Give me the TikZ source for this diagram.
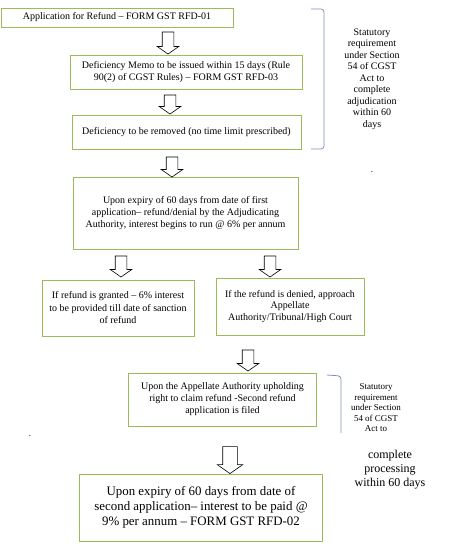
\documentclass[tikz,border=0pt]{standalone}
\usepackage{fontspec}
\setmainfont{Liberation Serif}
\usetikzlibrary{shapes.arrows}
\definecolor{boxgreen}{RGB}{155,187,89}
\definecolor{bracegray}{RGB}{128,148,182}

\begin{document}
\begin{tikzpicture}[x=1pt,y=-1pt,
  box/.style={draw=boxgreen,line width=0.8pt,inner sep=0pt,align=center,
    font=\rmfamily\fontsize{10}{11.6}\selectfont},
  down arrow/.style={single arrow,draw,fill=white,line width=0.6pt,rotate=-90,
    inner xsep=0pt,inner ysep=5.5pt,single arrow head extend=5pt,
    single arrow tip angle=110},
  note/.style={align=center,font=\rmfamily\fontsize{10}{11.5}\selectfont}]

  \useasboundingbox (0,0) rectangle (455,560);

  \node[box,minimum width=232pt,minimum height=19pt] (1) at (117,17.5)
    {Application for Refund -- FORM GST RFD-01};
  \node[box,minimum width=232pt,minimum height=34pt] (2) at (186,72)
    {Deficiency Memo to be issued within 15 days (Rule\\90(2) of CGST Rules) -- FORM GST RFD-03};
  \node[box,minimum width=229pt,minimum height=34pt] (3) at (186.5,132)
    {Deficiency to be removed (no time limit prescribed)};
  \node[box,minimum width=225pt,minimum height=72pt] (4) at (185.5,213)
    {Upon expiry of 60 days from date of first\\application-- refund/denial by the Adjudicating\\Authority, interest begins to run @ 6\% per annum};
  \node[box,minimum width=152pt,minimum height=56pt,
    font=\rmfamily\fontsize{10}{12.5}\selectfont] (5) at (118,308)
    {If refund is granted -- 6\% interest\\to be provided till date of sanction\\of refund};
  \node[box,minimum width=148pt,minimum height=57pt] (6) at (290,306.5)
    {If the refund is denied, approach\\Appellate\\Authority/Tribunal/High Court};
  \node[box,minimum width=188pt,minimum height=53pt,
    font=\rmfamily\fontsize{10}{12}\selectfont] (7) at (222.5,399.5)
    {Upon the Appellate Authority upholding\\right to claim refund -Second refund\\application is filed};
  \node[box,minimum width=243pt,minimum height=67pt,
    font=\rmfamily\fontsize{12.9}{15}\selectfont] (8) at (201,507.5)
    {Upon expiry of 60 days from date of\\second application-- interest to be paid @\\9\% per annum -- FORM GST RFD-02};

  % block arrows
  \node[down arrow,minimum height=22pt] (a1) at (168,41) {};
  \node[down arrow,minimum height=19pt] (a2) at (170,102.5) {};
  \node[down arrow,minimum height=20pt] (a3) at (172,165) {};
  \node[down arrow,minimum height=21pt] (a4) at (121,264.5) {};
  \node[down arrow,minimum height=21pt] (a5) at (270,264.5) {};
  \node[down arrow,minimum height=21pt] (a6) at (248,358.5) {};
  \node[down arrow,minimum height=27pt,inner ysep=7pt,
    single arrow head extend=5.5pt] (a7) at (230,457.5) {};

  % brackets and notes
  \draw[bracegray,line width=0.8pt,rounded corners=3pt]
    (311,9) -- (324,9) -- (324,149) -- (311,149);
  \node[note] (n1) at (372,79)
    {Statutory\\requirement\\under Section\\54 of CGST\\Act to\\complete\\adjudication\\within 60\\days};
  \draw[bracegray,line width=0.8pt,rounded corners=3pt]
    (327,375) -- (341,376) -- (341,433);
  \node[note,font=\rmfamily\fontsize{9}{10.5}\selectfont] (n2) at (376,408)
    {Statutory\\requirement\\under Section\\54 of CGST\\Act to};
  \node[note,font=\rmfamily\fontsize{12}{14}\selectfont] (n3) at (390,470)
    {complete\\processing\\within 60 days};

  \node[font=\small] (d1) at (372,172) {.};
  \node[font=\small] (d2) at (30,436) {.};
\end{tikzpicture}
\end{document}
